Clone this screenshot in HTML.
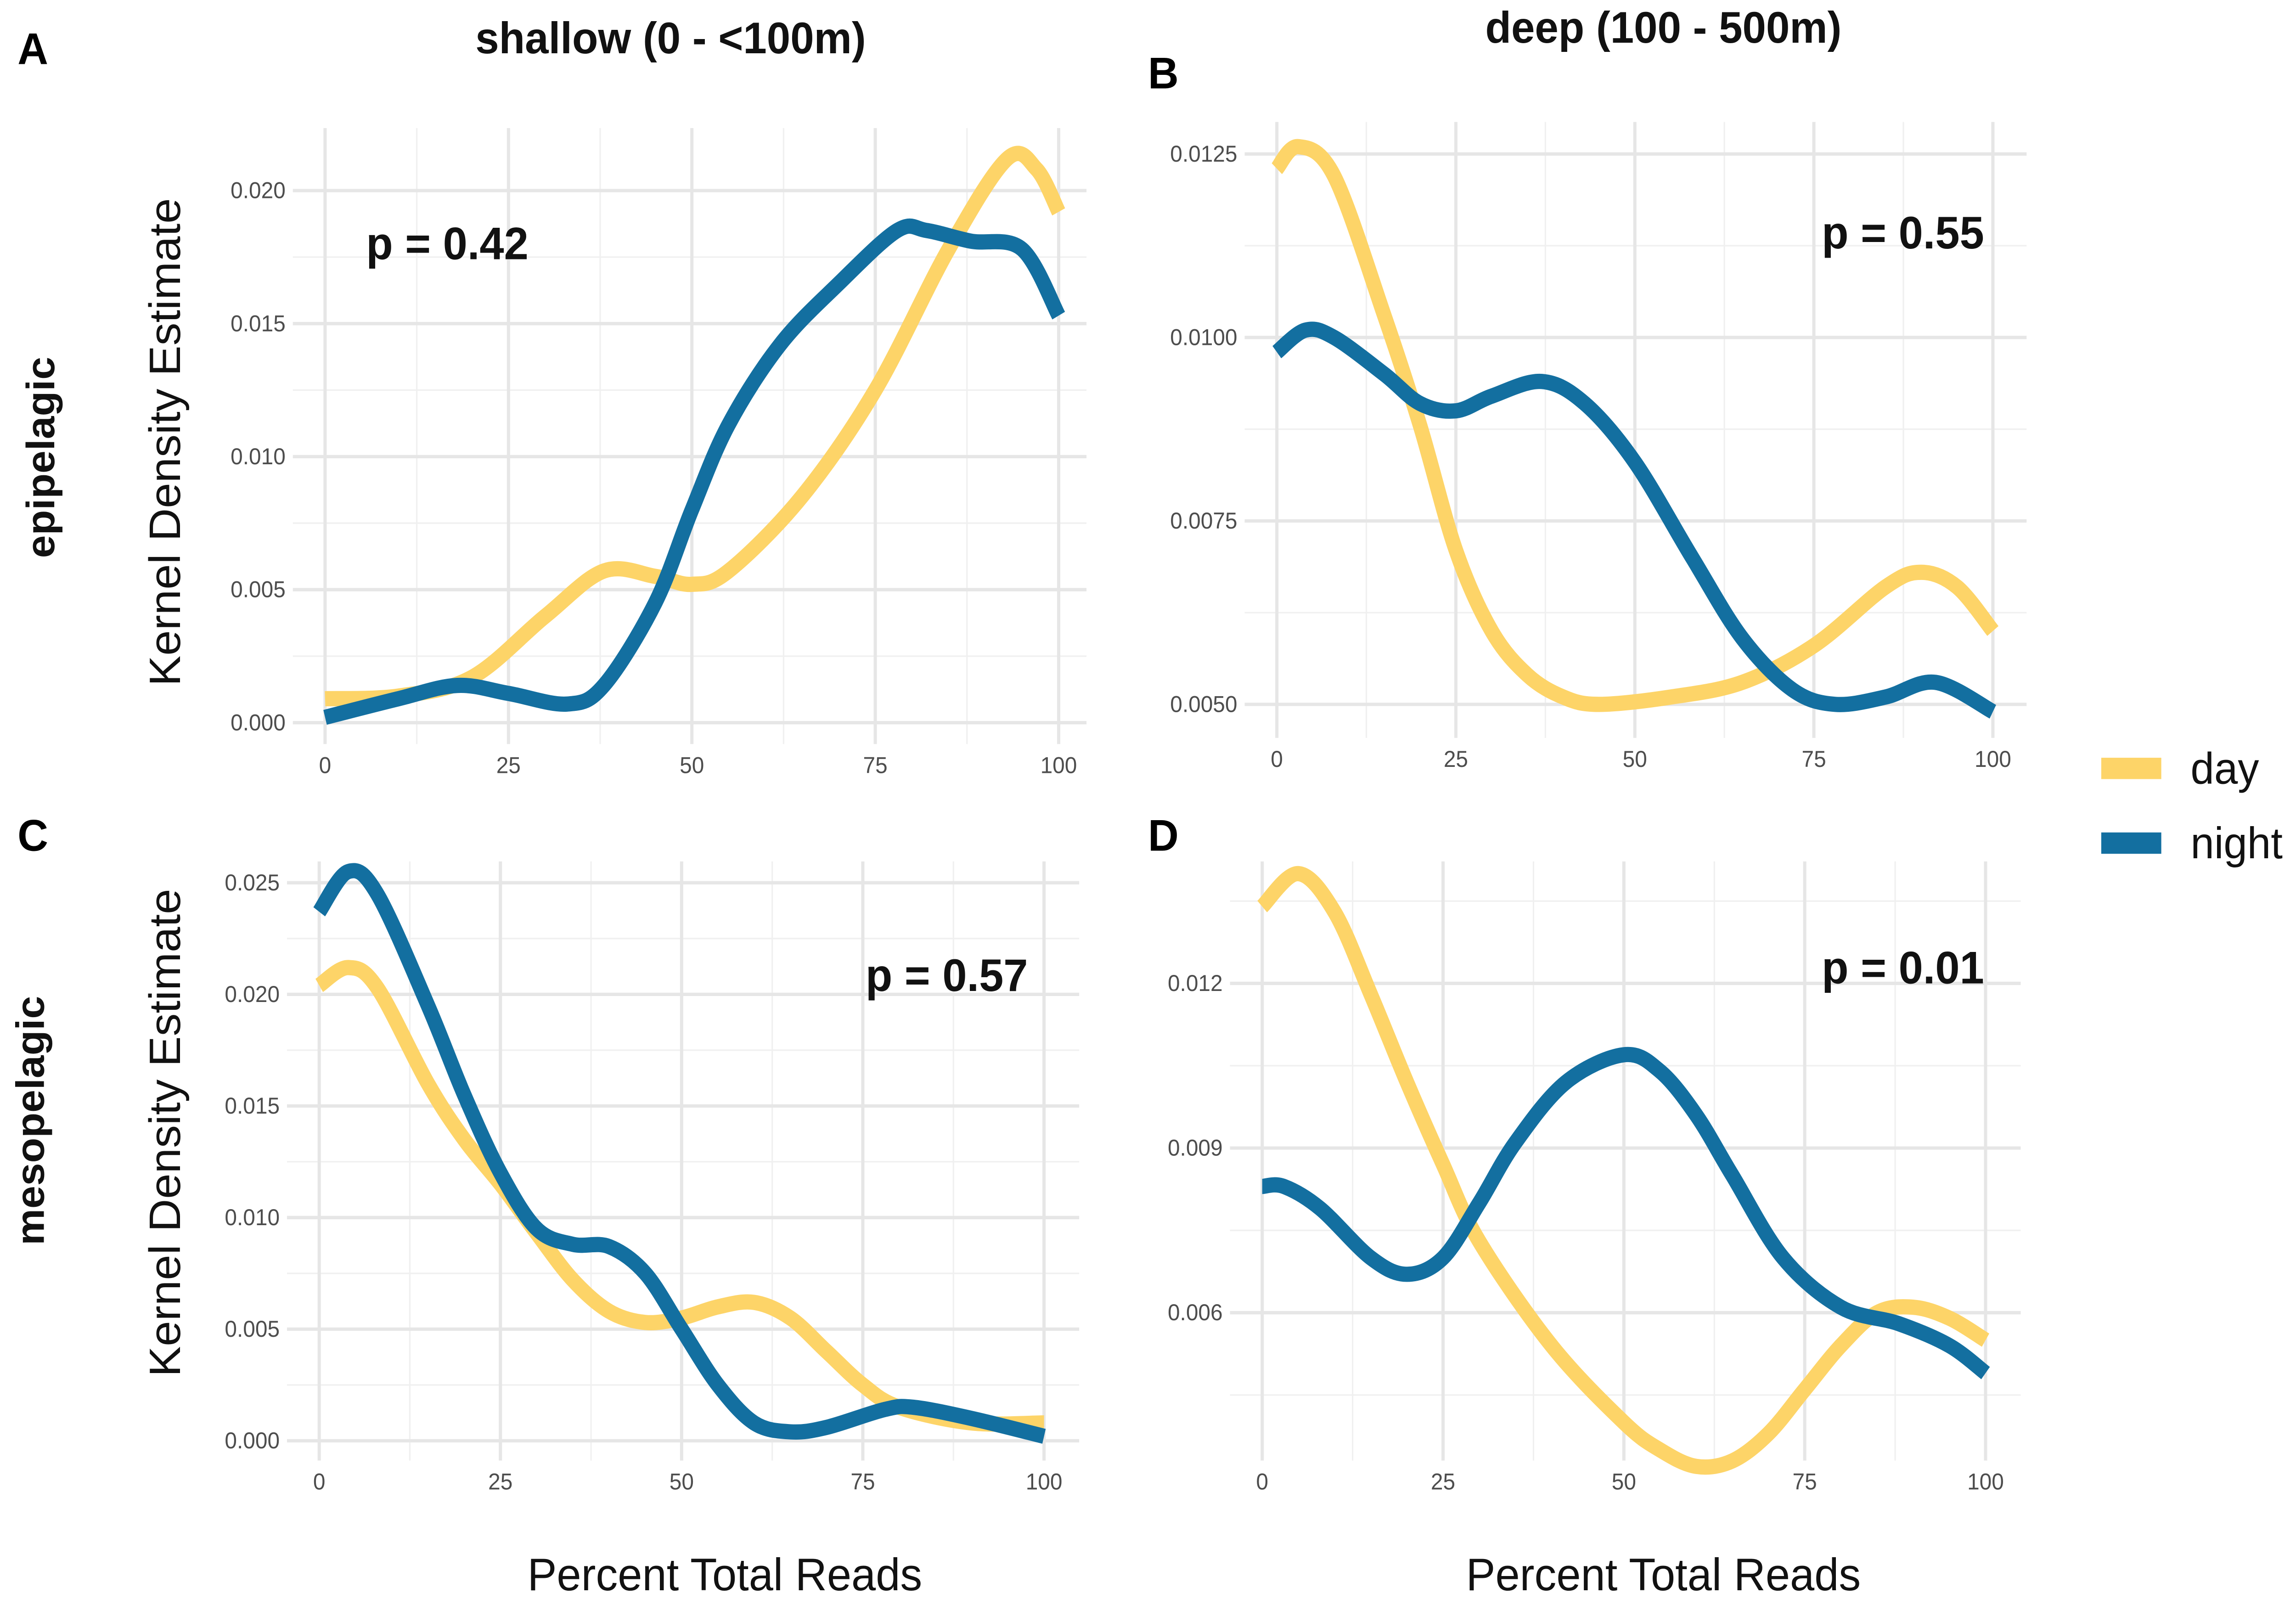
<!DOCTYPE html>
<html><head><meta charset="utf-8"><style>
html,body{margin:0;padding:0;background:#fff;width:100%;height:100%;overflow:hidden;}
svg{display:block;font-family:"Liberation Sans",Arial,sans-serif;width:100vw;height:100vh;}
</style></head><body>
<svg id="fig" viewBox="0 0 1568 1056" preserveAspectRatio="none" xmlns="http://www.w3.org/2000/svg">
<rect width="1568" height="1056" fill="#fff"/>
<g id="root"></g>
</svg>
<script>
const xTicks=[0,25,50,75,100];
const aYTicks=[0,0.005,0.010,0.015,0.020];
const aYLabels=["0.000","0.005","0.010","0.015","0.020"];
const bYTicks=[0.005,0.0075,0.010,0.0125];
const bYLabels=["0.0050","0.0075","0.0100","0.0125"];
const cYTicks=[0,0.005,0.010,0.015,0.020,0.025];
const cYLabels=["0.000","0.005","0.010","0.015","0.020","0.025"];
const dYTicks=[0.006,0.009,0.012];
const dYLabels=["0.006","0.009","0.012"];
const aDayX=[0,10,20,30,38,45,50,55,65,75,85,93,97,100];
const aDayY=[0.0009,0.0010,0.0017,0.0040,0.0057,0.0055,0.0052,0.0057,0.0085,0.0125,0.0178,0.0212,0.0208,0.0192];
const aNightX=[0,10,18,25,33,38,45,50,55,62,70,78,82,88,95,100];
const aNightY=[0.0002,0.0009,0.0014,0.0011,0.0007,0.0014,0.0045,0.0080,0.0112,0.0142,0.0165,0.0185,0.0185,0.0181,0.0178,0.0153];
const bDayX=[0,3,8,15,20,25,30,35,40,45,55,65,75,85,90,95,100];
const bDayY=[0.0123,0.0126,0.0122,0.0103,0.0088,0.0071,0.0060,0.0054,0.0051,0.0050,0.0051,0.0053,0.0058,0.0066,0.0068,0.0066,0.0060];
const bNightX=[0,4,8,15,20,25,30,37,43,50,58,65,72,78,85,92,100];
const bNightY=[0.0098,0.0101,0.0100,0.0095,0.0091,0.0090,0.0092,0.0094,0.0091,0.0083,0.0070,0.0059,0.0052,0.0050,0.0051,0.0053,0.0049];
const cDayX=[0,4,8,15,20,25,30,35,40,45,50,55,60,65,70,75,80,90,100];
const cDayY=[0.0204,0.0212,0.0203,0.0160,0.0135,0.0115,0.0093,0.0072,0.0058,0.0053,0.0055,0.0060,0.0062,0.0055,0.0040,0.0025,0.0015,0.0008,0.0008];
const cNightX=[0,4,8,15,20,25,30,35,40,45,50,55,60,65,70,78,82,90,100];
const cNightY=[0.0237,0.0255,0.0245,0.0195,0.0155,0.0120,0.0095,0.0088,0.0087,0.0075,0.0050,0.0025,0.0008,0.0004,0.0006,0.0014,0.0015,0.0010,0.0002];
const dDayX=[0,5,10,15,20,25,30,40,50,55,60,65,70,75,80,85,90,95,100];
const dDayY=[0.0134,0.0140,0.0133,0.0118,0.0102,0.0087,0.0073,0.0054,0.0040,0.0035,0.0032,0.0033,0.0038,0.0046,0.0054,0.0060,0.0061,0.0059,0.0055];
const dNightX=[0,3,8,15,20,25,30,35,42,50,55,60,65,72,80,88,95,100];
const dNightY=[0.0083,0.0083,0.0079,0.0070,0.0067,0.0070,0.0080,0.0091,0.0102,0.0107,0.0104,0.0096,0.0085,0.0070,0.0061,0.0058,0.0054,0.0049];

const NS="http://www.w3.org/2000/svg";
const root=document.getElementById('root');
function mk(tag,attrs,parent,text){const e=document.createElementNS(NS,tag);for(const k in attrs)e.setAttribute(k,attrs[k]);if(text!==undefined)e.textContent=text;(parent||root).appendChild(e);return e;}
function smooth(pts){let d=`M${pts[0][0]},${pts[0][1]}`;for(let i=0;i<pts.length-1;i++){const p0=pts[i-1]||pts[i],p1=pts[i],p2=pts[i+1],p3=pts[i+2]||p2;const c1=[p1[0]+(p2[0]-p0[0])/6,p1[1]+(p2[1]-p0[1])/6],c2=[p2[0]-(p3[0]-p1[0])/6,p2[1]-(p3[1]-p1[1])/6];d+=`C${c1[0]},${c1[1]} ${c2[0]},${c2[1]} ${p2[0]},${p2[1]}`;}return d;}
function panel(cfg){
 const g=mk('g',{});
 
 
 const sx=v=>cfg.x0+(v-0)/100*(cfg.x1-cfg.x0);
 const sy=v=>cfg.y0+(v-cfg.v0)/(cfg.v1-cfg.v0)*(cfg.y1-cfg.y0);
 for(let i=0;i<xTicks.length-1;i++){const m=(xTicks[i]+xTicks[i+1])/2;const l=mk('line',{x1:sx(m),x2:sx(m),y1:cfg.top,y2:cfg.bot,stroke:'#f0f0f0','stroke-width':1},g);}
 const yt=cfg.yTicks;const step=yt[1]-yt[0];
 for(let i=-1;i<yt.length;i++){const m=yt[0]+step*(i+0.5);const yy=sy(m);if(yy<cfg.top||yy>cfg.bot)continue;const l=mk('line',{x1:cfg.left,x2:cfg.right,y1:yy,y2:yy,stroke:'#f0f0f0','stroke-width':1},g);}
 xTicks.forEach(t=>{const l=mk('line',{x1:sx(t),x2:sx(t),y1:cfg.top,y2:cfg.bot,stroke:'#e6e6e6','stroke-width':2.2},g);
  const tx=mk('text',{x:sx(t),y:cfg.bot+19,'text-anchor':'middle','font-size':15,fill:'#4d4d4d'},g,String(t));});
 yt.forEach((t,i)=>{const l=mk('line',{x1:cfg.left,x2:cfg.right,y1:sy(t),y2:sy(t),stroke:'#e6e6e6','stroke-width':2.2},g);
  const tx=mk('text',{x:cfg.left-5,y:sy(t)+5,'text-anchor':'end','font-size':15,fill:'#4d4d4d'},g,cfg.yLabels[i]);});
 [[cfg.dx,cfg.dy,'#FDD468','day'],[cfg.nx,cfg.ny,'#136FA0','night']].forEach(s=>{const pts=s[0].map((x,i)=>[sx(x),sy(s[1][i])]);const p=mk('path',{d:smooth(pts),fill:'none',stroke:s[2],'stroke-width':10,'stroke-linecap':'butt','stroke-linejoin':'round'},g);});
 const pt=mk('text',{x:cfg.px,y:cfg.py,'text-anchor':cfg.pa,'font-size':30,'font-weight':'bold',fill:'#111'},g,cfg.p);
 const lt=mk('text',{x:cfg.lx,y:cfg.ly,'font-size':29,'font-weight':'bold',fill:'#000'},g,cfg.id);
}
panel({id:'A',x0:222,x1:723,v0:0,v1:0.020,y0:474,y1:125,left:200,right:742,top:84,bot:488,yTicks:aYTicks,yLabels:aYLabels,dx:aDayX,dy:aDayY,nx:aNightX,ny:aNightY,p:'p = 0.42',px:250,py:170,pa:'start',lx:12,ly:42});
panel({id:'B',x0:872,x1:1361,v0:0.005,v1:0.0125,y0:462,y1:101,left:850,right:1384,top:80,bot:484,yTicks:bYTicks,yLabels:bYLabels,dx:bDayX,dy:bDayY,nx:bNightX,ny:bNightY,p:'p = 0.55',px:1355,py:163,pa:'end',lx:784,ly:58});
panel({id:'C',x0:218,x1:713,v0:0,v1:0.025,y0:945,y1:579,left:196,right:737,top:565,bot:958,yTicks:cYTicks,yLabels:cYLabels,dx:cDayX,dy:cDayY,nx:cNightX,ny:cNightY,p:'p = 0.57',px:702,py:650,pa:'end',lx:12,ly:558});
panel({id:'D',x0:862,x1:1356,v0:0.006,v1:0.012,y0:861,y1:645,left:840,right:1380,top:565,bot:958,yTicks:dYTicks,yLabels:dYLabels,dx:dDayX,dy:dDayY,nx:dNightX,ny:dNightY,p:'p = 0.01',px:1355,py:645,pa:'end',lx:784,ly:558});
function txt(name,attrs,s){const t=mk('text',attrs,root,s);return t;}
txt('column-title-shallow',{x:458,y:35,'text-anchor':'middle','font-size':29,'font-weight':'bold',fill:'#111'},'shallow (0 - <100m)');
txt('column-title-deep',{x:1136,y:28,'text-anchor':'middle','font-size':29,'font-weight':'bold',fill:'#111'},'deep (100 - 500m)');
txt('row-label-epipelagic',{x:37,y:300,'text-anchor':'middle','font-size':27,'font-weight':'bold',fill:'#111',transform:'rotate(-90 37 300)'},'epipelagic');
txt('row-label-mesopelagic',{x:30,y:735,'text-anchor':'middle','font-size':27,'font-weight':'bold',fill:'#111',transform:'rotate(-90 30 735)'},'mesopelagic');
txt('y-axis-title-top',{x:123,y:290,'text-anchor':'middle','font-size':30,fill:'#111',transform:'rotate(-90 123 290)'},'Kernel Density Estimate');
txt('y-axis-title-bottom',{x:123,y:743,'text-anchor':'middle','font-size':30,fill:'#111',transform:'rotate(-90 123 743)'},'Kernel Density Estimate');
txt('x-axis-title-left',{x:495,y:1043,'text-anchor':'middle','font-size':30,fill:'#111'},'Percent Total Reads');
txt('x-axis-title-right',{x:1136,y:1043,'text-anchor':'middle','font-size':30,fill:'#111'},'Percent Total Reads');
const l1=mk('rect',{x:1435,y:497,width:41,height:14,fill:'#FDD468'});
const l2=mk('rect',{x:1435,y:546,width:41,height:14,fill:'#136FA0'});
txt('legend-label-day',{x:1496,y:514,'font-size':29,fill:'#111'},'day');
txt('legend-label-night',{x:1496,y:563,'font-size':29,fill:'#111'},'night');
</script>
</body></html>
